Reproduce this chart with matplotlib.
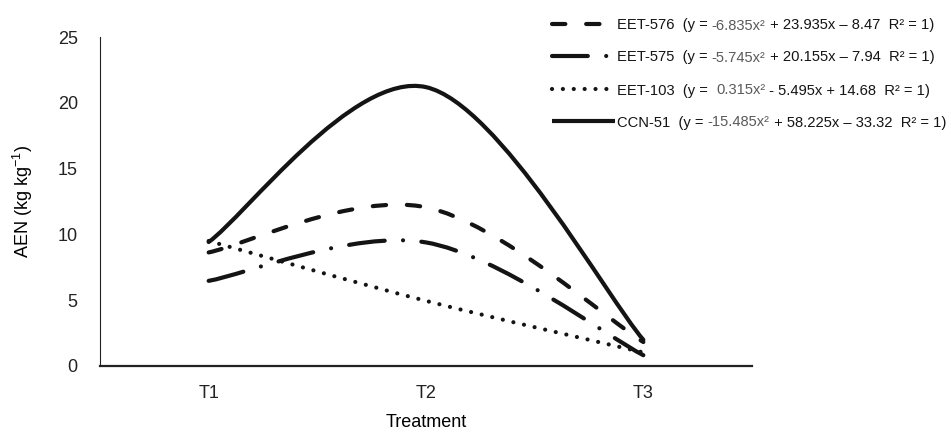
import numpy as np
import matplotlib
matplotlib.use("Agg")
import matplotlib.pyplot as plt
from matplotlib.path import Path
from matplotlib.patches import PathPatch
from matplotlib.lines import Line2D

# values at each treatment (from the fitted equations in the legend)
treatments = ["T1", "T2", "T3"]
eet576 = [8.63, 12.06, 1.82]
eet575 = [6.47, 9.39, 0.82]
eet103 = [9.50, 4.95, 1.03]
ccn51 = [9.42, 21.19, 1.99]

names = ["EET-576", "EET-575", "EET-103", "CCN-51"]
eq_coef = ["-6.835x²", "-5.745x²", "0.315x²", "-15.485x²"]
eq_pre = ["  (y = ", "  (y = ", "  (y =  ", "  (y = "]
eq_rest = [" + 23.935x – 8.47  R² = 1)",
           " + 20.155x – 7.94  R² = 1)",
           " - 5.495x + 14.68  R² = 1)",
           " + 58.225x – 33.32  R² = 1)"]

LW = 3.0
styles = {
    "EET-576": (0, (3.2, 5.0)),
    "EET-575": (0, (8.6, 4.4, 0.01, 4.4)),
    "EET-103": (0, (0.01, 2.6)),
    "CCN-51": "solid",
}
INK = "#141414"
GREY = "#5a5a5a"


def smooth_path(xs, ys):
    # Excel-like smoothed line: Catmull-Rom segments as cubic Beziers
    pts = np.column_stack([xs, ys]).astype(float)
    n = len(pts)
    verts = [pts[0]]
    codes = [Path.MOVETO]
    for i in range(n - 1):
        p0 = pts[max(i - 1, 0)]
        p1 = pts[i]
        p2 = pts[i + 1]
        p3 = pts[min(i + 2, n - 1)]
        verts += [p1 + (p2 - p0) / 6, p2 - (p3 - p1) / 6, p2]
        codes += [Path.CURVE4] * 3
    return Path(verts, codes)


plt.rcParams["font.family"] = ["Liberation Sans", "DejaVu Sans"]

fig = plt.figure(figsize=(9.51, 4.32), dpi=100)
ax = fig.add_axes([100 / 951, 1 - 366 / 432, 652 / 951, 329 / 432])

x = np.arange(1, len(treatments) + 1)
series = {"EET-576": eet576, "EET-575": eet575, "EET-103": eet103, "CCN-51": ccn51}
for name, vals in series.items():
    patch = PathPatch(smooth_path(x, vals), fill=False, edgecolor=INK, lw=LW,
                      linestyle=styles[name], capstyle="round", joinstyle="round")
    ax.add_patch(patch)

ax.set_xlim(0.5, 3.5)
ax.set_ylim(0, 25)
ax.set_xticks(x)
ax.set_xticklabels(treatments)
ax.set_yticks(range(0, 26, 5))
ax.tick_params(length=0, labelsize=13, colors="#222222")
ax.tick_params(axis="y", pad=16)
ax.tick_params(axis="x", pad=14)
for s in ["top", "right"]:
    ax.spines[s].set_visible(False)
ax.spines["left"].set_color("#222222")
ax.spines["bottom"].set_color("#222222")
ax.spines["bottom"].set_linewidth(1.6)
ax.set_xlabel("Treatment", fontsize=13, labelpad=8)
ax.set_ylabel(r"AEN (kg kg$^{\mathregular{-1}}$)", fontsize=13, labelpad=16)

# legend drawn by hand so the coefficients can be grey
W, H = 951, 432
row_y = [24, 56, 89, 121]
hx0, hx1, tx = 552, 608, 617
fig.canvas.draw()
r = fig.canvas.get_renderer()
for i, name in enumerate(names):
    yy = 1 - row_y[i] / H
    x_end = 615 if name == "CCN-51" else hx1
    fig.add_artist(Line2D([hx0 / W, x_end / W], [yy, yy], transform=fig.transFigure,
                          color=INK, lw=LW, linestyle=styles[name],
                          dash_capstyle="round", solid_capstyle="butt"))
    cur = tx
    for piece, col in [(name + eq_pre[i], INK), (eq_coef[i], GREY), (eq_rest[i], INK)]:
        t = fig.text(cur / W, yy, piece, color=col, fontsize=10.6,
                     va="center_baseline", ha="left")
        bb = t.get_window_extent(renderer=r)
        cur = bb.x1

fig.savefig("out.png", dpi=100)
